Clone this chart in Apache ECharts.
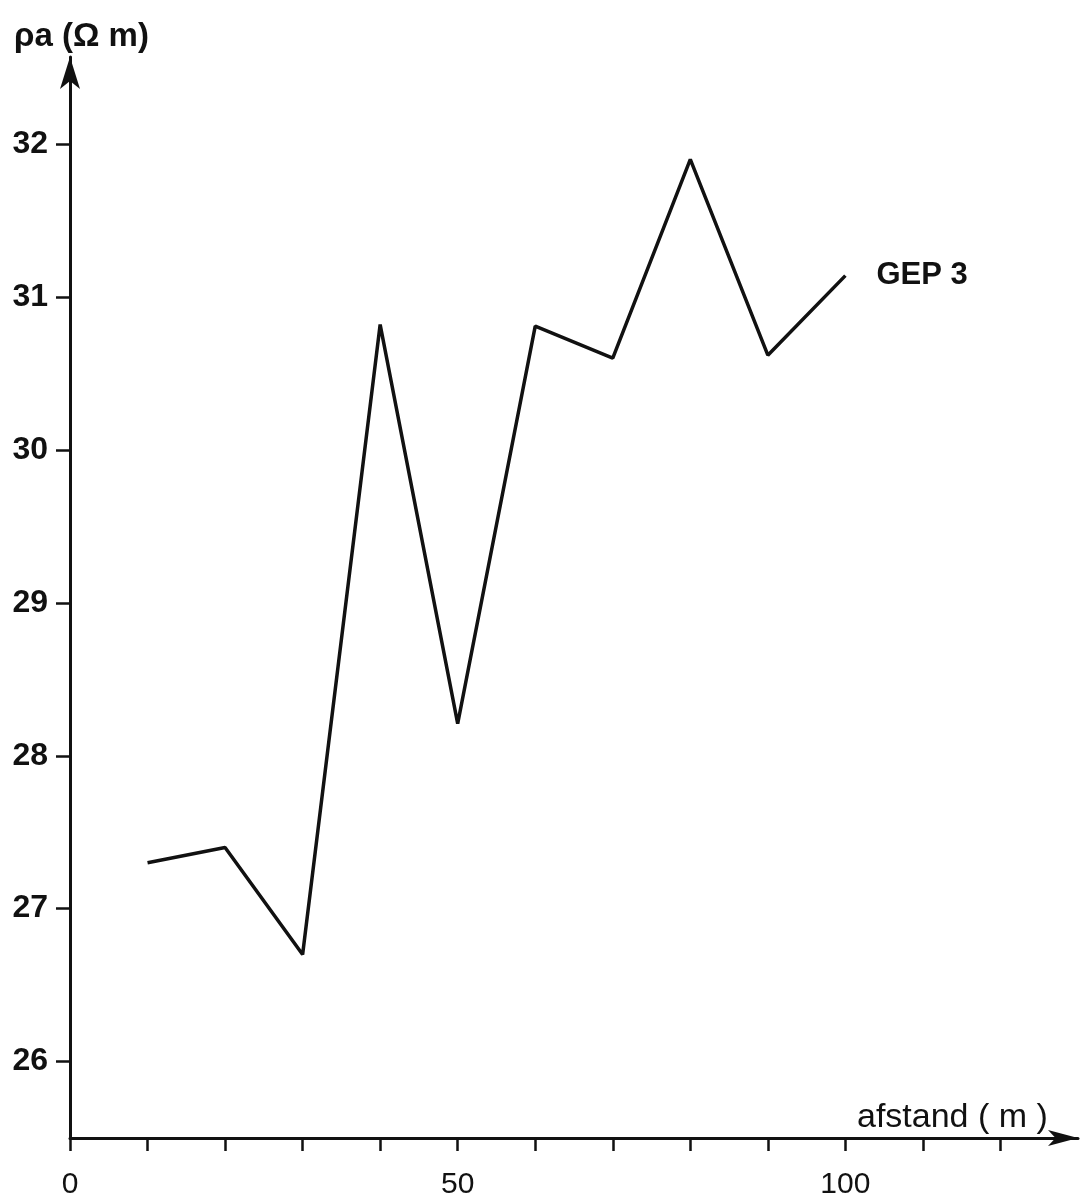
<!DOCTYPE html>
<html>
<head>
<meta charset="utf-8">
<script src="https://cdn.jsdelivr.net/npm/echarts@6/dist/echarts.min.js"></script>
<style>
  html, body { margin: 0; padding: 0; background: #fff; }
  #chart { width: 1081px; height: 1200px; }
</style>
</head>
<body>
<div id="chart"></div>
<script>
// afstand (m) and apparent resistivity (ohm m), profile GEP 3
const distances = [10, 20, 30, 40, 50, 60, 70, 80, 90, 100]
const resistivity = [27.3, 27.4, 26.7, 30.82, 28.21, 30.81, 30.6, 31.9, 30.62, 31.14]
const xTicks = [0, 10, 20, 30, 40, 50, 60, 70, 80, 90, 100, 110, 120]
const xLabels = [0, 50, 100]
const yTicks = [26, 27, 28, 29, 30, 31, 32]
const seriesName = 'GEP 3'

let myChart = echarts.init(document.getElementById('chart'))
const ink = '#111'
const font = '"Liberation Sans", "DejaVu Sans", sans-serif'

myChart.setOption({
  backgroundColor: '#fff',
  animation: false,
  grid: {
    left: 70,
    right: 3,
    top: 57,
    bottom: 52
  },
  xAxis: {
    type: 'value',
    min: 0,
    max: 130,
    splitLine: { show: false },
    axisLine: {
      onZero: false,
      symbol: ['none', 'arrow'],
      symbolSize: [12, 30],
      lineStyle: { color: ink, width: 3 }
    },
    axisTick: {
      customValues: xTicks,
      length: 13,
      lineStyle: { color: ink, width: 2.5 }
    },
    axisLabel: {
      customValues: xLabels,
      margin: 32,
      color: ink,
      fontFamily: font,
      fontSize: 30
    }
  },
  yAxis: {
    type: 'value',
    min: 25.5,
    max: 32.57,
    splitLine: { show: false },
    axisLine: {
      show: true,
      onZero: false,
      symbol: ['none', 'arrow'],
      symbolSize: [15, 32],
      lineStyle: { color: ink, width: 3 }
    },
    axisTick: {
      show: true,
      customValues: yTicks,
      length: 14,
      lineStyle: { color: ink, width: 2.5 }
    },
    axisLabel: {
      customValues: yTicks,
      margin: 22,
      color: ink,
      fontFamily: font,
      fontWeight: 'bold',
      fontSize: 32
    }
  },
  graphic: [
    {
      type: 'text',
      left: 14,
      top: 20,
      style: {
        text: 'ρa (Ω m)',
        fill: ink,
        font: 'bold 33px ' + font
      }
    },
    {
      type: 'text',
      left: 857,
      top: 1101,
      style: {
        text: 'afstand ( m )',
        fill: ink,
        font: '34px ' + font
      }
    }
  ],
  series: [
    {
      name: seriesName,
      type: 'line',
      data: distances.map((d, i) => [d, resistivity[i]]),
      symbol: 'none',
      lineStyle: { color: ink, width: 3.5 },
      endLabel: {
        show: true,
        formatter: seriesName,
        distance: 31,
        color: ink,
        fontFamily: font,
        fontWeight: 'bold',
        fontSize: 31
      }
    }
  ]
})
</script>
</body>
</html>
